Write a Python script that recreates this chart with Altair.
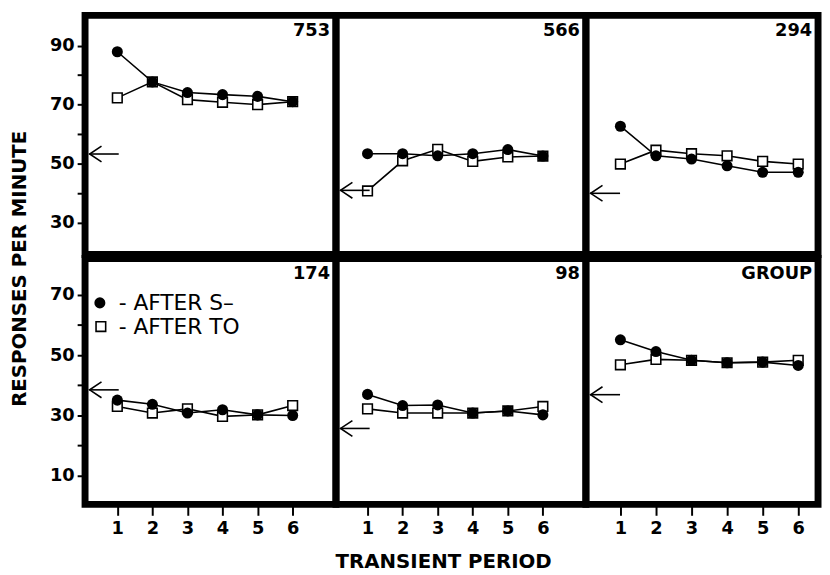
import altair as alt
import pandas as pd

FONT = "DejaVu Sans"

periods = [1, 2, 3, 4, 5, 6]
panel_names = ["753", "566", "294", "174", "98", "GROUP"]

after_s_753 = [87.9, 77.7, 74.1, 73.4, 72.8, 71.0]
after_to_753 = [72.3, 77.7, 71.7, 70.8, 70.0, 71.0]
after_s_566 = [53.4, 53.4, 52.7, 53.4, 54.8, 52.6]
after_to_566 = [40.8, 51.0, 54.9, 50.8, 52.3, 52.6]
after_s_294 = [62.7, 52.7, 51.6, 49.3, 47.1, 47.1]
after_to_294 = [49.9, 54.6, 53.4, 52.7, 50.8, 49.9]
after_s_174 = [35.1, 33.7, 30.8, 31.9, 30.2, 30.0]
after_to_174 = [33.0, 30.8, 32.2, 29.7, 30.2, 33.3]
after_s_98 = [37.0, 33.3, 33.5, 30.8, 31.5, 30.2]
after_to_98 = [32.2, 30.8, 30.8, 30.8, 31.5, 33.0]
after_s_group = [55.1, 51.2, 48.3, 47.5, 47.7, 46.6]
after_to_group = [46.8, 48.6, 48.3, 47.5, 47.7, 48.3]

# baseline (arrow) levels per panel
baseline = [53.3, 41.0, 40.0, 38.5, 25.7, 36.9]

y_ticks_top = [30, 40, 50, 60, 70, 80, 90]
y_ticks_bottom = [10, 20, 30, 40, 50, 60, 70]

series_s = [after_s_753, after_s_566, after_s_294, after_s_174, after_s_98, after_s_group]
series_to = [after_to_753, after_to_566, after_to_294, after_to_174, after_to_98, after_to_group]

rows = []
for name, s_vals, t_vals in zip(panel_names, series_s, series_to):
    for p, a, b in zip(periods, s_vals, t_vals):
        rows.append({"panel": name, "period": p, "series": "S", "value": a})
        rows.append({"panel": name, "period": p, "series": "TO", "value": b})
df = pd.DataFrame(rows)
base_df = pd.DataFrame({"panel": panel_names, "baseline": baseline})

COL_W = [254, 253, 235]
ROW_H = [242, 249]
X_DOM = [[0.08, 0.08 + 254 / 35.5], [0.10, 0.10 + 253 / 35.5], [0.03, 0.03 + 235 / 36.0]]
Y_DOM = [[19.3, 100.2], [0.5, 82.1]]
Y_TICKS = [y_ticks_top, y_ticks_bottom]

CHEVRON = "M 0.75 -1 L -0.75 0 L 0.75 1"


def make_panel(i):
    r, c = divmod(i, 3)
    name = panel_names[i]
    w, h = COL_W[c], ROW_H[r]
    xs = alt.Scale(domain=X_DOM[c], nice=False, zero=False)
    ys = alt.Scale(domain=Y_DOM[r], nice=False, zero=False)
    if r == 1:
        if c == 1:
            xa = alt.Axis(values=periods, title="TRANSIENT PERIOD", tickSize=11,
                          labelPadding=4, titlePadding=15, format="d", titleX=w / 2 - 18)
        else:
            xa = alt.Axis(values=periods, title=None, tickSize=11, labelPadding=4, format="d")
    else:
        xa = None
    if c == 0:
        ya = alt.Axis(values=Y_TICKS[r], title=None, tickSize=8, labelPadding=3,
                      labelExpr="datum.value % 20 == 10 ? datum.label : ''")
    else:
        ya = None

    x = alt.X("period:Q", scale=xs, axis=xa)
    y = alt.Y("value:Q", scale=ys, axis=ya)
    d = alt.Chart(df).transform_filter(alt.datum.panel == name)
    b = alt.Chart(base_df).transform_filter(alt.datum.panel == name)

    lines = d.mark_line(color="black", strokeWidth=1.6).encode(x=x, y=y, detail="series:N")
    squares = d.transform_filter(alt.datum.series == "TO").mark_point(
        shape="square", filled=True, fill="white", stroke="black",
        strokeWidth=1.6, size=95, opacity=1).encode(x=x, y=y)
    circles = d.transform_filter(alt.datum.series == "S").mark_circle(
        color="black", size=125, opacity=1).encode(x=x, y=y)

    x0 = X_DOM[c][0]
    shaft = b.mark_rule(color="black", strokeWidth=1.6).encode(
        x=alt.datum(x0 + 0.12), x2=alt.datum(x0 + 0.96),
        y=alt.Y("baseline:Q", scale=ys, axis=ya))
    head = b.mark_point(shape=CHEVRON, filled=False, stroke="black",
                        strokeWidth=1.6, size=256, opacity=1).encode(
        x=alt.datum(x0 + 0.30), y=alt.Y("baseline:Q", scale=ys, axis=ya))
    label = b.mark_text(align="right", baseline="top", font=FONT, fontWeight="bold",
                        fontSize=18, color="black").encode(
        x=alt.value(w - 6), y=alt.value(7), text=alt.value(name))

    layers = [lines, squares, circles, shaft, head, label]

    if i == 3:
        leg_c = b.mark_circle(color="black", size=125, opacity=1).encode(
            x=alt.value(15), y=alt.value(45))
        leg_s = b.mark_point(shape="square", filled=True, fill="white", stroke="black",
                             strokeWidth=1.6, size=95, opacity=1).encode(
            x=alt.value(16), y=alt.value(69))
        leg_t1 = b.mark_text(align="left", baseline="middle", font=FONT, fontSize=22,
                             color="black").encode(
            x=alt.value(34), y=alt.value(45), text=alt.value("- AFTER S–"))
        leg_t2 = b.mark_text(align="left", baseline="middle", font=FONT, fontSize=22,
                             color="black").encode(
            x=alt.value(34), y=alt.value(69), text=alt.value("- AFTER TO"))
        layers += [leg_c, leg_s, leg_t1, leg_t2]

    return alt.layer(*layers).properties(width=w, height=h)


row1 = alt.hconcat(*[make_panel(i) for i in range(3)], spacing=0, bounds="flush")
row2 = alt.hconcat(*[make_panel(i) for i in range(3, 6)], spacing=0, bounds="flush")

chart = alt.vconcat(row1, row2, spacing=-7).properties(
    title=alt.TitleParams("RESPONSES PER MINUTE", orient="left", anchor="middle",
                          font=FONT, fontSize=20, fontWeight="bold",
                          color="black", offset=16, dx=25),
    padding={"left": 2, "top": 0, "right": 0, "bottom": 0},
).configure_view(
    stroke="black", strokeWidth=7
).configure_axis(
    domain=False, grid=False, tickColor="black", tickWidth=2,
    labelColor="black", labelFont=FONT, labelFontWeight="bold", labelFontSize=18,
    titleColor="black", titleFont=FONT, titleFontWeight="bold", titleFontSize=20,
)

chart.save("out.html", embed_options={"renderer": "svg", "actions": False})
